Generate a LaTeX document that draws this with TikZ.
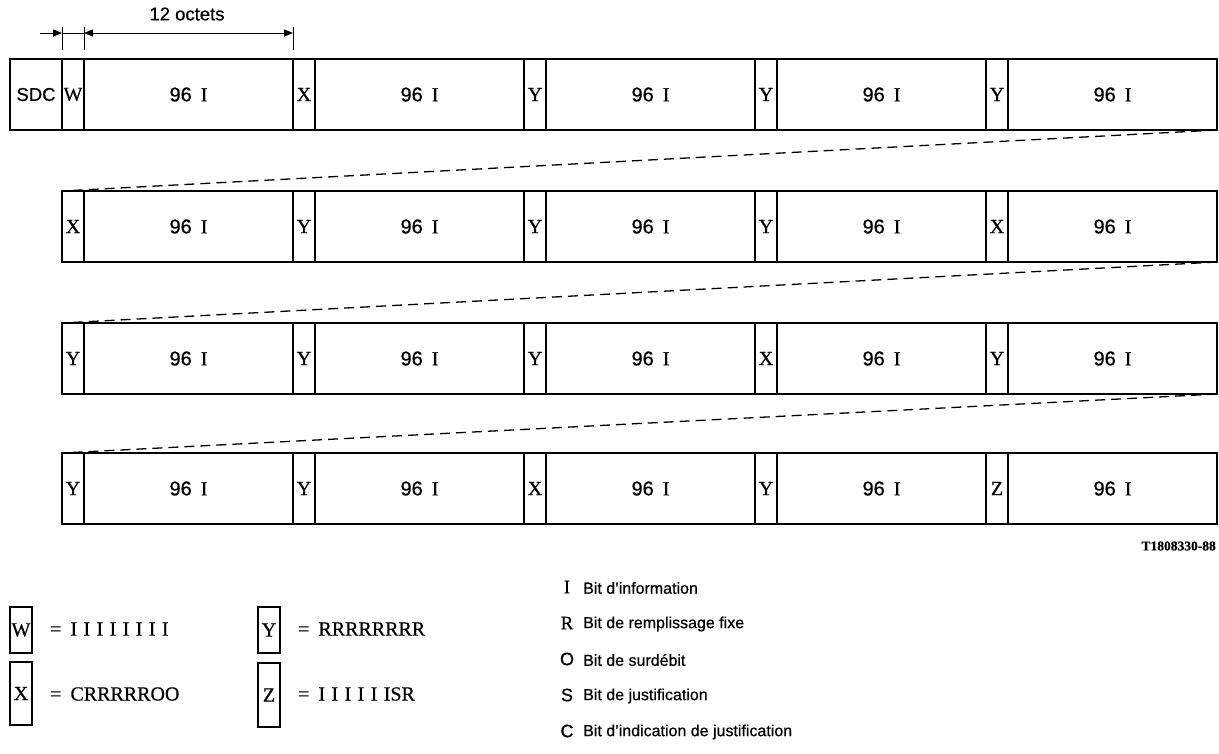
\documentclass[tikz,border=0pt]{standalone}
\usepackage{fontspec}
\setmainfont[FakeBold=0.5]{Liberation Serif}
\setsansfont[FakeBold=0.6]{Liberation Sans}
\usetikzlibrary{arrows.meta}
\newcommand\nsix{{\sffamily 96}\hspace{9pt}{\rmfamily I}}
\newcommand\spI[1]{{\addfontfeature{LetterSpace=32}#1}}
\begin{document}
\begin{tikzpicture}[x=1pt,y=-1pt,
  cell/.style={draw, line width=1.2pt, inner sep=0pt, outer sep=0pt, minimum height=71pt, anchor=north west},
  narrow/.style={cell, minimum width=22pt, font=\fontsize{20}{22}\selectfont\rmfamily},
  wide/.style={cell, minimum width=209pt, font=\fontsize{20}{22}\selectfont},
  sdc/.style={cell, minimum width=52pt, font=\fontsize{18.5}{20}\selectfont\sffamily},
  link/.style={line width=1.3pt, dash pattern=on 10pt off 6pt},
  dim/.style={line width=1pt},
  tip/.style={dim, -{Triangle[length=9pt,width=7pt]}},
  both/.style={dim, {Triangle[length=9pt,width=7pt]}-{Triangle[length=9pt,width=7pt]}},
  lbox/.style={draw, line width=1.2pt, inner sep=0pt, outer sep=0pt, minimum width=22pt, anchor=north west, font=\fontsize{20}{22}\selectfont\rmfamily},
  ltext/.style={anchor=west, inner sep=0pt, font=\fontsize{20}{22}\selectfont\rmfamily},
  key/.style={anchor=center, inner sep=0pt},
  desc/.style={anchor=west, inner sep=0pt, font=\fontsize{16}{18}\selectfont\sffamily},
  lab/.style={inner sep=0pt, font=\fontsize{18.5}{20}\selectfont\sffamily}
]
\useasboundingbox (0,0) rectangle (1219,753);

% Row 1
\node[sdc] (sdc) at (10,59) {SDC};
\foreach \lab [count=\i from 0] in {W,X,Y,Y,Y}{
  \node[narrow] (r1n\i) at (62+231*\i,59) {\lab};
  \node[wide] (r1w\i) at (84+231*\i,59) {\nsix};
}
% Row 2
\foreach \lab [count=\i from 0] in {X,Y,Y,Y,X}{
  \node[narrow] (r2n\i) at (62+231*\i,191) {\lab};
  \node[wide] (r2w\i) at (84+231*\i,191) {\nsix};
}
% Row 3
\foreach \lab [count=\i from 0] in {Y,Y,Y,X,Y}{
  \node[narrow] (r3n\i) at (62+231*\i,323) {\lab};
  \node[wide] (r3w\i) at (84+231*\i,323) {\nsix};
}
% Row 4
\foreach \lab [count=\i from 0] in {Y,Y,X,Y,Z}{
  \node[narrow] (r4n\i) at (62+231*\i,453) {\lab};
  \node[wide] (r4w\i) at (84+231*\i,453) {\nsix};
}

% dashed continuation lines
\draw[link] (r1w4.south east) -- (r2n0.north west);
\draw[link] (r2w4.south east) -- (r3n0.north west);
\draw[link] (r3w4.south east) -- (r4n0.north west);

% dimension lines
\coordinate (e0a) at (62,27); \coordinate (e0b) at (62,50);
\coordinate (e1a) at (84,27); \coordinate (e1b) at (84,50);
\coordinate (e2a) at (293,27); \coordinate (e2b) at (293,50);
\draw[dim] (e0a) -- (e0b);
\draw[dim] (e1a) -- (e1b);
\draw[dim] (e2a) -- (e2b);
\coordinate (s0) at (40,33);
\coordinate (p0) at (62,33);
\coordinate (p1) at (84,33);
\coordinate (p2) at (293,33);
\draw[tip] (s0) -- (p0);
\draw[dim] (p0) -- (p1);
\draw[both] (p1) -- (p2);
\node[lab] (oct) at (187,14) {12 octets};

% reference number
\node[anchor=east, inner sep=0pt, font=\fontsize{13.5}{14}\selectfont\bfseries] (ref) at (1216,546) {T1808330-88};

% legend boxes
\node[lbox, minimum height=46pt] (lw) at (10,607) {W};
\node[ltext] (tw) at (50,629) {=\hspace{9pt}\spI{IIIIIIII}};
\node[lbox, minimum height=63pt] (lx) at (10,662) {X};
\node[ltext] (tx) at (50,694) {=\hspace{9pt}CRRRRROO};
\node[lbox, minimum height=46pt] (ly) at (258,607) {Y};
\node[ltext] (ty) at (298,629) {=\hspace{9pt}RRRRRRRR};
\node[lbox, minimum height=64pt] (lz) at (258,663) {Z};
\node[ltext] (tz) at (298,694) {=\hspace{9pt}\spI{IIIIII}SR};

% legend descriptions
\node[key, font=\fontsize{19}{22}\selectfont\rmfamily] (kI) at (567,587) {I};
\node[desc] (dI) at (583,588) {Bit d’information};
\node[key, font=\fontsize{19}{22}\selectfont\rmfamily] (kR) at (567,623) {R};
\node[desc] (dR) at (583,624) {Bit de remplissage fixe};
\node[key, font=\fontsize{18}{20}\selectfont\sffamily] (kO) at (567,659) {O};
\node[desc] (dO) at (583,660) {Bit de surdébit};
\node[key, font=\fontsize{18}{20}\selectfont\sffamily] (kS) at (567,695) {S};
\node[desc] (dS) at (583,696) {Bit de justification};
\node[key, font=\fontsize{18}{20}\selectfont\sffamily] (kC) at (567,731) {C};
\node[desc] (dC) at (583,732) {Bit d’indication de justification};
\end{tikzpicture}
\end{document}
